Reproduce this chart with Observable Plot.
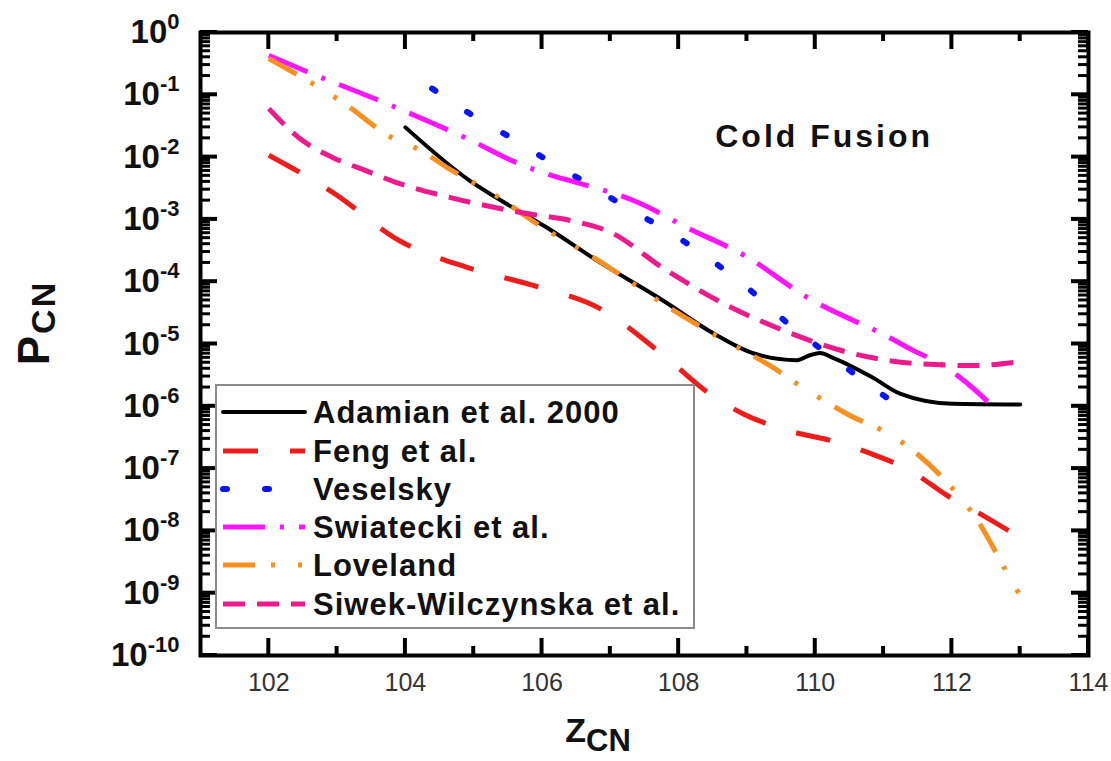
<!DOCTYPE html>
<html><head><meta charset="utf-8">
<script src="https://cdn.jsdelivr.net/npm/d3@7"></script>
<script src="https://cdn.jsdelivr.net/npm/@observablehq/plot@0.6"></script>
<style>
body{margin:0;background:#fff;color:#000;font-family:Arial,"Liberation Sans",sans-serif;}
#wrap{position:relative;width:1111px;height:761px;overflow:hidden;}
#legend{position:absolute;left:215px;top:384px;width:476px;height:241px;border:2px solid #8a8a8a;background:#fff;}
#legend svg{display:block;}
</style></head><body><div id="wrap"></div>
<script>
// ---- axis ticks ----
const zTicks = [102, 104, 106, 108, 110, 112, 114];
const zMinorTicks = [103, 105, 107, 109, 111, 113];
const pExponents = [0, -1, -2, -3, -4, -5, -6, -7, -8, -9, -10];

// ---- series (Z_CN, P_CN) ----
const seriesNames = ["Adamian et al. 2000", "Feng et al.", "Veselsky", "Swiatecki et al.", "Loveland", "Siwek-Wilczynska et al."];
const seriesColors = ["#000000", "#f01c1c", "#0a14f5", "#ff14ff", "#f7901e", "#ec1a8a"];

const adamianZ = [104.0, 104.94, 105.34, 106.07, 106.8, 107.77, 108.5, 109.09, 109.73, 109.92, 110.07, 110.26, 110.84, 111.24, 112.01, 113.0];
const adamianP = [3.0e-2, 4.2e-3, 2.2e-3, 7.4e-4, 2.2e-4, 5.0e-5, 1.5e-5, 7.1e-6, 5.5e-6, 6.6e-6, 7.2e-6, 6.0e-6, 2.9e-6, 1.6e-6, 1.1e-6, 1.07e-6];

const fengZ = [102.0, 102.94, 103.92, 104.9, 105.87, 106.85, 107.83, 108.43, 108.94, 109.44, 110.4, 110.9, 111.39, 111.93, 112.37, 113.0];
const fengP = [1.07e-2, 2.7e-3, 4.5e-4, 1.7e-4, 8.7e-5, 3.7e-5, 5.9e-6, 1.66e-6, 7.6e-7, 4.6e-7, 2.5e-7, 1.6e-7, 9.3e-8, 3.7e-8, 2.0e-8, 7.8e-9];

const veselskyZ = [104.39, 104.94, 105.56, 106.08, 106.66, 107.24, 107.83, 108.41, 109.0, 109.63, 110.26, 110.84, 111.49];
const veselskyP = [1.26e-1, 5.0e-2, 2.0e-2, 8.9e-3, 3.8e-3, 1.55e-3, 6.6e-4, 2.5e-4, 8.1e-5, 2.0e-5, 6.0e-6, 2.0e-6, 6.3e-7];

const swiateckiZ = [102.0, 102.5, 103.73, 104.4, 104.94, 105.63, 106.16, 106.51, 107.39, 108.12, 109.0, 109.88, 111.09, 111.43, 111.82, 112.31, 112.66];
const swiateckiP = [4.3e-1, 2.5e-1, 7.2e-2, 3.5e-2, 1.9e-2, 8.1e-3, 5.0e-3, 3.9e-3, 1.9e-3, 7.4e-4, 2.5e-4, 5.6e-5, 1.26e-5, 7.9e-6, 4.9e-6, 1.95e-6, 8.5e-7];

const lovelandZ = [102.0, 103.08, 103.82, 104.21, 104.61, 105.28, 106.01, 106.74, 107.92, 108.6, 109.38, 109.73, 110.46, 111.24, 111.94, 112.37, 112.81, 113.0];
const lovelandP = [3.8e-1, 7.6e-2, 2.0e-2, 1.3e-2, 6.8e-3, 2.6e-3, 7.4e-4, 2.5e-4, 3.5e-5, 1.26e-5, 4.2e-6, 2.3e-6, 7.6e-7, 2.8e-7, 5.8e-8, 1.5e-8, 2.1e-9, 9.1e-10];

const siwekZ = [102.0, 102.45, 102.94, 103.43, 103.87, 104.69, 105.67, 106.55, 106.95, 107.83, 108.65, 109.53, 110.51, 111.43, 112.31, 113.0];
const siwekP = [6.0e-2, 2.0e-2, 9.8e-3, 6.0e-3, 3.9e-3, 2.2e-3, 1.3e-3, 8.9e-4, 6.6e-4, 1.5e-4, 4.5e-5, 1.66e-5, 7.2e-6, 4.9e-6, 4.5e-6, 5.2e-6];

const annotationText = ["Cold Fusion"];
const annotationZ = [110.13];
const annotationP = [0.021];

// ---- styles per series ----
const seriesDash = [null, "35,32", "4,38", "42,15,4,15", "32,16,4,23,4,16", "22,12"];
const seriesWidth = [4, 5, 6, 5, 5, 5];
const seriesCap = ["round", "butt", "round", "butt", "butt", "butt"];
const seriesData = [
  [adamianZ, adamianP], [fengZ, fengP], [veselskyZ, veselskyP],
  [swiateckiZ, swiateckiP], [lovelandZ, lovelandP], [siwekZ, siwekP]
];

const pTicks = pExponents.map(e => Math.pow(10, e));
const pMinor = [];
for (const e of pExponents.slice(1)) for (let k = 2; k <= 9; k++) pMinor.push(k * Math.pow(10, e));

const W = 1111, H = 761, mL = 200, mR = 23, mT = 32, mB = 106;
const font = "Arial, 'Liberation Sans', sans-serif";

const lineMarks = seriesData.map(([zs, ps], i) =>
  Plot.line(zs.map((z, j) => ({z, p: ps[j]})), {
    x: "z", y: "p", stroke: seriesColors[i], strokeWidth: seriesWidth[i],
    strokeDasharray: seriesDash[i] || undefined, strokeLinecap: seriesCap[i],
    curve: "monotone-x"
  })
);

const plot = Plot.plot({
  width: W, height: H,
  marginLeft: mL, marginRight: mR, marginTop: mT, marginBottom: mB,
  style: {fontFamily: font, background: "white", color: "black", overflow: "visible"},
  x: {domain: [101, 114]},
  y: {type: "log", domain: [1e-10, 1]},
  marks: [
    ...lineMarks,
    Plot.text(annotationText.map((t, i) => ({t, z: annotationZ[i], p: annotationP[i]})),
      {x: "z", y: "p", text: "t", fontSize: 32, fontWeight: "bold", fill: "#111"}),
    Plot.frame({strokeWidth: 4, stroke: "#000"}),
    Plot.axisY(pTicks, {anchor: "left", tickSize: 0, tickPadding: 21, label: null,
      tickFormat: d => "10^" + Math.round(Math.log10(d)), fontSize: 33, fontWeight: "bold", fill: "#111"}),
    Plot.axisX(zTicks, {anchor: "bottom", tickSize: 0, tickPadding: 18, label: null,
      tickFormat: d => String(d), fontSize: 25, fill: "#333"})
  ]
});

const svgNode = plot.tagName.toLowerCase() === "svg" ? plot : plot.querySelector("svg");
const svg = d3.select(svgNode);

// inward frame ticks placed through Plot's own scales
const sx = plot.scale("x"), sy = plot.scale("y");
const xLeft = sx.apply(101), xRight = sx.apply(114);
const yTop = sy.apply(1), yBottom = sy.apply(1e-10);
const tg = svg.append("g").attr("stroke", "#000");
function hTicks(vals, len, w) {
  for (const v of vals) {
    const y = sy.apply(v);
    tg.append("line").attr("x1", xLeft).attr("x2", xLeft + len).attr("y1", y).attr("y2", y).attr("stroke-width", w);
    tg.append("line").attr("x1", xRight - len).attr("x2", xRight).attr("y1", y).attr("y2", y).attr("stroke-width", w);
  }
}
function vTicks(vals, len, w) {
  for (const v of vals) {
    const x = sx.apply(v);
    tg.append("line").attr("x1", x).attr("x2", x).attr("y1", yBottom).attr("y2", yBottom - len).attr("stroke-width", w);
    tg.append("line").attr("x1", x).attr("x2", x).attr("y1", yTop).attr("y2", yTop + len).attr("stroke-width", w);
  }
}
hTicks(pTicks, 17, 4);
hTicks(pMinor, 10, 3);
vTicks(zTicks, 17, 4);
vTicks(zMinorTicks, 9, 4);

// superscripts on y tick labels
svg.selectAll('g[aria-label="y-axis tick label"] text').each(function () {
  const [b, e] = this.textContent.split("^");
  const t = d3.select(this);
  t.text(null);
  t.append("tspan").text(b);
  t.append("tspan").attr("dy", "-14").attr("font-size", 22).text(e);
});
svg.selectAll('g[aria-label="text"] text').style("letter-spacing", "3px");

// axis titles
const lab = svg.append("g").attr("font-family", font).attr("font-weight", "bold").attr("fill", "#111");
const yl = lab.append("text").attr("transform", "translate(49,323) rotate(-90)").attr("text-anchor", "middle")
  .attr("font-size", 44).style("letter-spacing", "2px");
yl.append("tspan").text("P");
yl.append("tspan").attr("font-size", 34).attr("dy", 6).text("CN");
const xl = lab.append("text").attr("x", 598).attr("y", 742).attr("font-size", 34);
xl.append("tspan").text("Z");
xl.append("tspan").attr("font-size", 31).attr("dy", 9).text("CN");

const wrap = document.getElementById("wrap");
wrap.appendChild(plot);

// legend overlay
const leg = d3.select(wrap).append("div").attr("id", "legend");
const ls = leg.append("svg").attr("width", 476).attr("height", 241);
const rowY = [26, 65, 103, 141, 179, 218];
seriesNames.forEach((name, i) => {
  ls.append("line").attr("x1", 6).attr("x2", 88).attr("y1", rowY[i]).attr("y2", rowY[i])
    .attr("stroke", seriesColors[i]).attr("stroke-width", seriesWidth[i])
    .attr("stroke-dasharray", seriesDash[i]).attr("stroke-linecap", seriesCap[i]);
  ls.append("text").attr("x", 96).attr("y", rowY[i] + 11).attr("font-family", font)
    .attr("font-weight", "bold").attr("font-size", 31).style("letter-spacing", "1px")
    .attr("fill", "#111").text(name);
});
</script>
</body></html>
